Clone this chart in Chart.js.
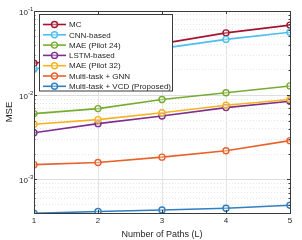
<!DOCTYPE html>
<html>
<head>
<meta charset="utf-8">
<script src="https://cdn.jsdelivr.net/npm/chart.js@4"></script>
<style>
  html, body { margin: 0; padding: 0; background: #fff; }
  #wrap { width: 302px; height: 240px; }
</style>
</head>
<body>
<div id="wrap"><canvas id="myChart" width="302" height="240"></canvas></div>
<script>
const paths = [1, 2, 3, 4, 5]
const mc = [0.024, 0.031, 0.041, 0.055, 0.068]
const cnn = [0.0204, 0.027, 0.036, 0.046, 0.056]
const mae24 = [0.00605, 0.00694, 0.0089, 0.0107, 0.0129]
const lstm = [0.00359, 0.0046, 0.00567, 0.00713, 0.0085]
const mae32 = [0.00452, 0.00513, 0.0062, 0.0076, 0.0089]
const gnn = [0.0015, 0.00159, 0.00184, 0.00219, 0.00289]
const vcd = [0.000398, 0.000416, 0.000434, 0.000455, 0.000494]
const seriesNames = ['MC', 'CNN-based', 'MAE (Pilot 24)', 'LSTM-based', 'MAE (Pilot 32)', 'Multi-task + GNN', 'Multi-task + VCD (Proposed)']
const seriesColors = ['#A2142F', '#4DBEEE', '#77AC30', '#7E2F8E', '#F5B323', '#E8622A', '#2F7FC1']
const decadeTicks = [0.001, 0.01, 0.1]
const decadeExps = ['-3', '-2', '-1']

const FONT = 'Liberation Sans, Arial, sans-serif'
const allSeries = [mc, cnn, mae24, lstm, mae32, gnn, vcd]

const datasets = allSeries.map((vals, i) => ({
    label: seriesNames[i],
    data: paths.map((p, j) => ({ x: p, y: vals[j] })),
    borderColor: seriesColors[i],
    backgroundColor: seriesColors[i],
    borderWidth: 1.6,
    pointRadius: 3,
    pointBorderWidth: 1.4,
    pointBackgroundColor: 'rgba(255,255,255,0.35)',
    pointBorderColor: seriesColors[i],
    tension: 0,
    order: 6 - i
}))

const isDecade = v => Math.abs(Math.log10(v) - Math.round(Math.log10(v))) < 1e-6

// frame, inward ticks, 10^n labels and the legend box, MATLAB style
const boxPlugin = {
    id: 'boxPlugin',
    afterDraw(chart) {
        const ctx = chart.ctx
        const a = chart.chartArea
        const xs = chart.scales.x, ys = chart.scales.y
        ctx.save()
        ctx.strokeStyle = '#3a3a3a'
        ctx.lineWidth = 1
        ctx.strokeRect(Math.round(a.left) + 0.5, Math.round(a.top) + 0.5, Math.round(a.right - a.left), Math.round(a.bottom - a.top))
        ctx.beginPath()
        paths.forEach(p => {
            const px = Math.round(xs.getPixelForValue(p)) + 0.5
            ctx.moveTo(px, a.bottom); ctx.lineTo(px, a.bottom - 3)
            ctx.moveTo(px, a.top); ctx.lineTo(px, a.top + 3)
        })
        ys.ticks.forEach(t => {
            const py = Math.round(ys.getPixelForValue(t.value)) + 0.5
            const len = isDecade(t.value) ? 3 : 1.5
            ctx.moveTo(a.left, py); ctx.lineTo(a.left + len, py)
            ctx.moveTo(a.right, py); ctx.lineTo(a.right - len, py)
        })
        ctx.stroke()

        // y tick labels as 10 with a raised exponent
        ctx.fillStyle = '#262626'
        ctx.textBaseline = 'middle'
        decadeTicks.forEach((d, k) => {
            const py = ys.getPixelForValue(d)
            ctx.font = '8px ' + FONT
            ctx.textAlign = 'right'
            ctx.fillText('10', 28, py + 1.5)
            ctx.font = '6px ' + FONT
            ctx.textAlign = 'left'
            ctx.fillText(decadeExps[k], 28, py - 2)
        })

        // legend
        const lx = 39.5, ly = 14.5, lw = 133, lh = 76.5
        ctx.fillStyle = '#fff'
        ctx.fillRect(lx, ly, lw, lh)
        ctx.strokeStyle = '#3a3a3a'
        ctx.lineWidth = 1
        ctx.strokeRect(lx, ly, lw, lh)
        ctx.font = '8px ' + FONT
        ctx.textAlign = 'left'
        ctx.textBaseline = 'middle'
        chart.data.datasets.forEach((ds, i) => {
            const y = 24.5 + i * 10.3
            ctx.strokeStyle = ds.borderColor
            ctx.lineWidth = 1.6
            ctx.beginPath(); ctx.moveTo(43, y); ctx.lineTo(66, y); ctx.stroke()
            ctx.lineWidth = 1.4
            ctx.fillStyle = 'rgba(255,255,255,0.35)'
            ctx.beginPath(); ctx.arc(54.5, y, 3, 0, Math.PI * 2); ctx.fill(); ctx.stroke()
            ctx.fillStyle = '#262626'
            ctx.fillText(ds.label, 69, y + 0.5)
        })
        ctx.restore()
    }
}

var ctx = document.getElementById('myChart')
var myChart = new Chart(ctx, {
    type: 'line',
    data: { datasets: datasets },
    plugins: [boxPlugin],
    options: {
        responsive: false,
        animation: false,
        layout: { padding: { top: 11, right: 12, left: 0, bottom: 0 } },
        plugins: { legend: { display: false }, tooltip: { enabled: false } },
        scales: {
            x: {
                type: 'linear',
                min: 1, max: 5,
                afterFit: s => { s.height = 27 },
                ticks: { stepSize: 1, color: '#262626', font: { family: FONT, size: 8 }, padding: 3, maxRotation: 0 },
                grid: { color: c => (c.tick && (c.tick.value === 1 || c.tick.value === 5)) ? 'rgba(0,0,0,0)' : '#e3e3e3', drawTicks: false, lineWidth: 1 },
                border: { display: false },
                title: { display: true, text: 'Number of Paths (L)', color: '#262626', font: { family: FONT, size: 9 }, padding: { top: 0, bottom: 0 } }
            },
            y: {
                type: 'logarithmic',
                min: 0.0004, max: 0.1,
                afterFit: s => { s.width = 34 },
                afterBuildTicks: s => {
                    const t = []
                    for (let e = -4; e <= -1; e++) {
                        for (let m = 1; m <= 9; m++) {
                            const v = m * Math.pow(10, e)
                            if (v >= 0.0004 * 0.999 && v <= 0.1 * 1.001) t.push({ value: v })
                        }
                    }
                    s.ticks = t
                },
                ticks: {
                    autoSkip: false,
                    color: '#262626',
                    font: { family: FONT, size: 8 },
                    padding: 3,
                    callback: () => ''
                },
                grid: {
                    color: c => (c.tick && isDecade(c.tick.value)) ? '#dedede' : '#e6e6e6',
                    drawTicks: false,
                    lineWidth: 1
                },
                border: { display: false, dash: c => (c.tick && isDecade(c.tick.value)) ? [] : [1, 2] },
                title: { display: true, text: 'MSE', color: '#262626', font: { family: FONT, size: 9.5 }, padding: { top: 4, bottom: 0 } }
            }
        }
    }
})
</script>
</body>
</html>
